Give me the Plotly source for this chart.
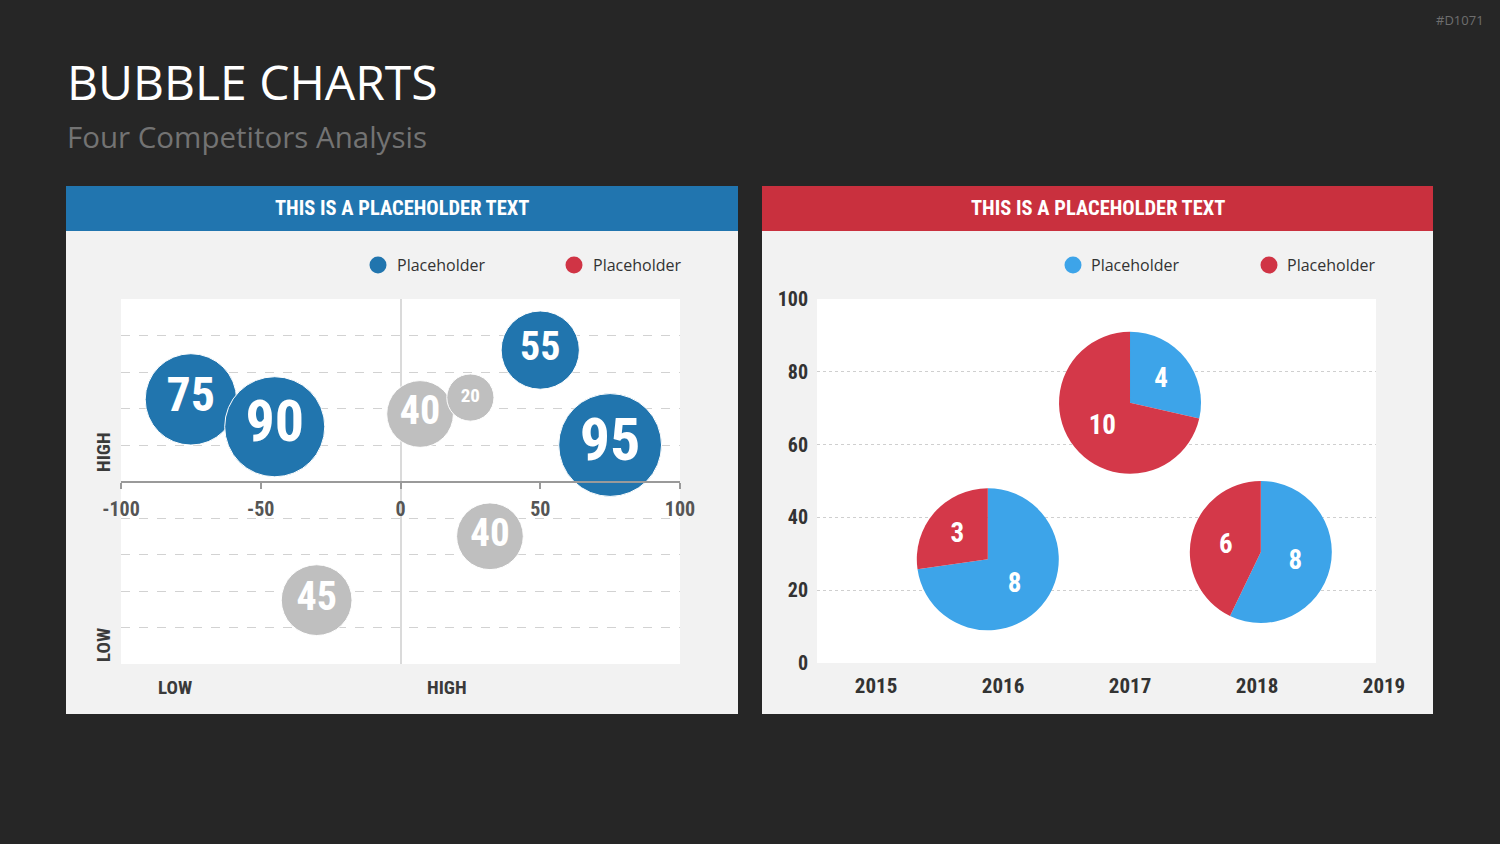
import plotly.graph_objects as go

W, H = 1500, 844

# ---------------- data ----------------
# Left chart: bubbles (x position, y position, value shown in bubble)
BLUE_X = [-75, -45, 50, 75]
BLUE_Y = [45, 30, 72, 20]
BLUE_VALUES = [75, 90, 55, 95]
GRAY_X = [7, 25, 32, -30]
GRAY_Y = [37, 46, -30, -65]
GRAY_VALUES = [40, 20, 40, 45]
LEFT_X_TICKS = [-100, -50, 0, 50, 100]
LEFT_X_LABELS = ["-100", "-50", "0", "50", "100"]

# Right chart: pie bubbles (year position, y value, blue share, red share)
YEARS = [2015, 2016, 2017, 2018, 2019]
YEAR_LABELS = ["2015", "2016", "2017", "2018", "2019"]
PIE_X = [2015.88, 2017.0, 2018.03]
PIE_Y = [28.5, 71.5, 30.5]
PIE_BLUE = [8, 4, 8]
PIE_RED = [3, 10, 6]
RIGHT_Y_TICKS = [0, 20, 40, 60, 80, 100]
RIGHT_Y_LABELS = ["0", "20", "40", "60", "80", "100"]

LEGEND_LABELS = ["Placeholder", "Placeholder"]
HEADER_TEXT = "THIS IS A PLACEHOLDER TEXT"
TITLE = "BUBBLE CHARTS"
SUBTITLE = "Four Competitors Analysis"
CODE = "#D1071"

# ---------------- style ----------------
BG = "#262626"
PANEL = "#F2F2F2"
BLUE_HDR = "#2175AF"
RED_HDR = "#C9303E"
BUBBLE_BLUE = "#2175AE"
BUBBLE_GRAY = "#BFBFBF"
PIE_BLUE_C = "#3DA4E9"
PIE_RED_C = "#D43849"
LEG_RED = "#D03445"
COND = "Roboto Condensed, Liberation Sans Narrow, Roboto, Liberation Sans, sans-serif"
SANS = "Open Sans, Noto Sans, sans-serif"
BLUE_LABEL_SIZES = [48, 58, 40, 60]
GRAY_LABEL_SIZES = [40, 19, 39, 40]
BUBBLE_K = 10.55          # diameter px = K * sqrt(value)
SIZEREF = 2.0 / BUBBLE_K ** 2
PIE_R = 71

# geometry (px)
LP = (66, 738)
RP = (762, 1433)
HDR_TOP, HDR_BOT, PANEL_BOT = 186, 231, 714
L_PX = (121, 680)
L_PY = (299, 664)
R_PX = (817, 1376)
R_PY = (299, 663)
X2_RANGE = [2014.535, 2018.937]
Y2_RANGE = [0, 100]
LX_RANGE = [-100, 100]
LY_RANGE = [-100, 100]


def fx(p):
    return p / W


def fy(p):
    return 1 - p / H


fig = go.Figure()

# ---- left bubble chart ----
fig.add_trace(go.Scatter(
    x=GRAY_X, y=GRAY_Y, mode="markers+text",
    text=[str(v) for v in GRAY_VALUES], textposition="middle center",
    marker=dict(size=GRAY_VALUES, sizemode="area", sizeref=SIZEREF,
                color=BUBBLE_GRAY, opacity=1, line=dict(color="white", width=1)),
    textfont=dict(family=COND, size=GRAY_LABEL_SIZES, color="white", weight="bold"),
    showlegend=False, hoverinfo="skip", xaxis="x", yaxis="y"))
fig.add_trace(go.Scatter(
    x=BLUE_X, y=BLUE_Y, mode="markers+text",
    text=[str(v) for v in BLUE_VALUES], textposition="middle center",
    marker=dict(size=BLUE_VALUES, sizemode="area", sizeref=SIZEREF,
                color=BUBBLE_BLUE, opacity=1, line=dict(color="white", width=1)),
    textfont=dict(family=COND, size=BLUE_LABEL_SIZES, color="white", weight="bold"),
    showlegend=False, hoverinfo="skip", xaxis="x", yaxis="y"))

# ---- right chart: pie centres on the x2/y2 axes (invisible anchors) ----
fig.add_trace(go.Scatter(
    x=PIE_X, y=PIE_Y, mode="markers", marker=dict(size=1, opacity=0),
    showlegend=False, hoverinfo="skip", xaxis="x2", yaxis="y2"))
# year label axis (empty trace so the axis is laid out)
fig.add_trace(go.Scatter(
    x=[], y=[], mode="markers", showlegend=False, hoverinfo="skip",
    xaxis="x3", yaxis="y3"))


def x2_px(v):
    return R_PX[0] + (v - X2_RANGE[0]) / (X2_RANGE[1] - X2_RANGE[0]) * (R_PX[1] - R_PX[0])


def y2_px(v):
    return R_PY[1] - (v - Y2_RANGE[0]) / (Y2_RANGE[1] - Y2_RANGE[0]) * (R_PY[1] - R_PY[0])


for px_, py_, b, r in zip(PIE_X, PIE_Y, PIE_BLUE, PIE_RED):
    cx, cy = x2_px(px_), y2_px(py_)
    fig.add_trace(go.Pie(
        values=[b, r], labels=["Blue", "Red"], sort=False,
        direction="clockwise", rotation=0,
        marker=dict(colors=[PIE_BLUE_C, PIE_RED_C], line=dict(width=0)),
        texttemplate="%{value}", textposition="inside",
        insidetextorientation="horizontal",
        textfont=dict(family=COND, size=27, color="white", weight="bold"),
        showlegend=False, hoverinfo="skip",
        domain=dict(x=[fx(cx - PIE_R), fx(cx + PIE_R)],
                    y=[fy(cy + PIE_R), fy(cy - PIE_R)])))

# x axis crossing at y = 0 of the left chart
ly_dom = [fy(L_PY[1]), fy(L_PY[0])]
x_cross = ly_dom[0] + (0 - LY_RANGE[0]) / (LY_RANGE[1] - LY_RANGE[0]) * (ly_dom[1] - ly_dom[0])

px_per_year = (R_PX[1] - R_PX[0]) / (X2_RANGE[1] - X2_RANGE[0])
X3_END_PX = 1430
X3_RANGE = [X2_RANGE[0], X2_RANGE[0] + (X3_END_PX - R_PX[0]) / px_per_year]

shapes = [
    dict(type="rect", xref="paper", yref="paper", x0=fx(LP[0]), x1=fx(LP[1]),
         y0=fy(PANEL_BOT), y1=fy(HDR_BOT), fillcolor=PANEL, line=dict(width=0), layer="below"),
    dict(type="rect", xref="paper", yref="paper", x0=fx(LP[0]), x1=fx(LP[1]),
         y0=fy(HDR_BOT), y1=fy(HDR_TOP), fillcolor=BLUE_HDR, line=dict(width=0), layer="below"),
    dict(type="rect", xref="paper", yref="paper", x0=fx(RP[0]), x1=fx(RP[1]),
         y0=fy(PANEL_BOT), y1=fy(HDR_BOT), fillcolor=PANEL, line=dict(width=0), layer="below"),
    dict(type="rect", xref="paper", yref="paper", x0=fx(RP[0]), x1=fx(RP[1]),
         y0=fy(HDR_BOT), y1=fy(HDR_TOP), fillcolor=RED_HDR, line=dict(width=0), layer="below"),
    dict(type="rect", xref="x domain", yref="y domain", x0=0, x1=1, y0=0, y1=1,
         fillcolor="white", line=dict(width=0), layer="below"),
    dict(type="rect", xref="x2 domain", yref="y2 domain", x0=0, x1=1, y0=0, y1=1,
         fillcolor="white", line=dict(width=0), layer="below"),
]

LEG_R = 8.5
for cx, col in [(378, BUBBLE_BLUE), (574, LEG_RED), (1073, PIE_BLUE_C), (1269, LEG_RED)]:
    shapes.append(dict(type="circle", xref="paper", yref="paper",
                       x0=fx(cx - LEG_R), x1=fx(cx + LEG_R),
                       y0=fy(265 + LEG_R), y1=fy(265 - LEG_R),
                       fillcolor=col, line=dict(width=0)))

annotations = [
    dict(text=TITLE, x=fx(65), y=fy(81), xanchor="left", yanchor="middle",
         font=dict(family=SANS, size=48, color="white")),
    dict(text=SUBTITLE, x=fx(65), y=fy(136), xanchor="left", yanchor="middle",
         font=dict(family=SANS, size=29.5, color="#737373")),
    dict(text=CODE, x=fx(1486), y=fy(20), xanchor="right", yanchor="middle",
         font=dict(family=SANS, size=13, color="#6e6e6e")),
    dict(text=HEADER_TEXT, x=fx((LP[0] + LP[1]) / 2), y=fy(208), xanchor="center", yanchor="middle",
         font=dict(family=COND, size=20.5, color="white", weight="bold")),
    dict(text=HEADER_TEXT, x=fx((RP[0] + RP[1]) / 2), y=fy(208), xanchor="center", yanchor="middle",
         font=dict(family=COND, size=20.5, color="white", weight="bold")),
    dict(text="HIGH", x=fx(103), y=fy(452), textangle=-90, xanchor="center", yanchor="middle",
         font=dict(family=COND, size=19, color="#3a3a3a", weight="bold")),
    dict(text="LOW", x=fx(103), y=fy(645), textangle=-90, xanchor="center", yanchor="middle",
         font=dict(family=COND, size=19, color="#3a3a3a", weight="bold")),
    dict(text="LOW", x=fx(175), y=fy(687), xanchor="center", yanchor="middle",
         font=dict(family=COND, size=19, color="#3a3a3a", weight="bold")),
    dict(text="HIGH", x=fx(447), y=fy(687), xanchor="center", yanchor="middle",
         font=dict(family=COND, size=19, color="#3a3a3a", weight="bold")),
]
for tx, lab in [(395, LEGEND_LABELS[0]), (591, LEGEND_LABELS[1]),
                (1089, LEGEND_LABELS[0]), (1285, LEGEND_LABELS[1])]:
    annotations.append(dict(text=lab, x=fx(tx), y=fy(265), xanchor="left", yanchor="middle",
                            font=dict(family=SANS, size=16, color="#333333")))
for a in annotations:
    a.update(xref="paper", yref="paper", showarrow=False)

fig.update_layout(
    width=W, height=H, autosize=False,
    margin=dict(l=0, r=0, t=0, b=0, pad=0, autoexpand=False),
    paper_bgcolor=BG, plot_bgcolor="rgba(0,0,0,0)",
    showlegend=False,
    xaxis=dict(domain=[fx(L_PX[0]), fx(L_PX[1])], range=LX_RANGE, anchor="free", position=x_cross,
               tickmode="array", tickvals=LEFT_X_TICKS, ticktext=LEFT_X_LABELS,
               ticks="outside", ticklen=6, tickwidth=2, tickcolor="#9a9a9a",
               showline=True, linecolor="#9a9a9a", linewidth=2, ticklabelstandoff=3,
               showgrid=False, zeroline=True, zerolinecolor="#dadada", zerolinewidth=2,
               tickfont=dict(family=COND, size=20, color="#555555", weight="bold"),
               fixedrange=True, automargin=False),
    yaxis=dict(domain=ly_dom, range=LY_RANGE, anchor="x",
               tickmode="linear", tick0=0, dtick=20, showticklabels=False, ticks="",
               showgrid=True, gridcolor="#d2d2d2", griddash="dash", gridwidth=1,
               zeroline=False, showline=False, fixedrange=True, automargin=False),
    xaxis2=dict(domain=[fx(R_PX[0]), fx(R_PX[1])], range=X2_RANGE, anchor="y2",
                showticklabels=False, showgrid=False, zeroline=False, showline=False, ticks="",
                automargin=False),
    yaxis2=dict(domain=[fy(R_PY[1]), fy(R_PY[0])], range=Y2_RANGE, anchor="x2",
                tickmode="array", tickvals=RIGHT_Y_TICKS, ticktext=RIGHT_Y_LABELS, ticks="",
                showgrid=True, gridcolor="#cfcfcf", griddash="dot", gridwidth=1,
                zeroline=False, showline=False, ticklabelstandoff=8, automargin=False,
                tickfont=dict(family=COND, size=20, color="#333333", weight="bold")),
    xaxis3=dict(domain=[fx(R_PX[0]), fx(X3_END_PX)], range=X3_RANGE, anchor="y3",
                tickmode="array", tickvals=YEARS, ticktext=YEAR_LABELS, ticks="",
                showgrid=False, zeroline=False, showline=False, ticklabelstandoff=8,
                automargin=False,
                tickfont=dict(family=COND, size=21, color="#333333", weight="bold")),
    yaxis3=dict(domain=[fy(R_PY[1]), fy(R_PY[1] - 1)], anchor="x3", range=[0, 1],
                showticklabels=False, showgrid=False, zeroline=False, showline=False,
                ticks="", automargin=False),
    shapes=shapes,
    annotations=annotations,
)

fig.write_html("out.html")
